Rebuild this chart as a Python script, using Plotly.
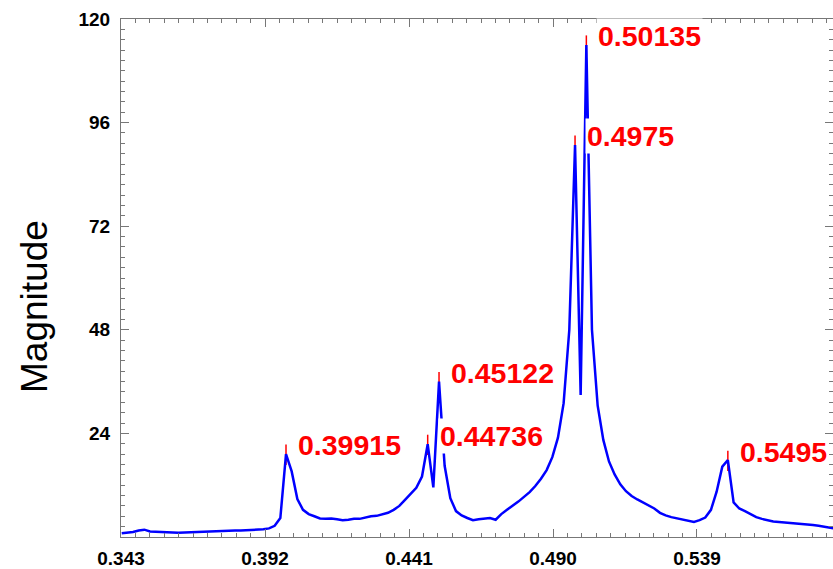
import plotly.graph_objects as go

# Frequency grid (x) and magnitude values (y)
freq = [0.34324, 0.34517, 0.34709, 0.34902, 0.35095, 0.35288, 0.35481, 0.35673,
        0.35866, 0.36059, 0.36252, 0.36445, 0.36637, 0.36830, 0.37023, 0.37216,
        0.37409, 0.37601, 0.37794, 0.37987, 0.38180, 0.38373, 0.38565, 0.38758,
        0.38951, 0.39144, 0.39337, 0.39529, 0.39722, 0.39915, 0.40108, 0.40301,
        0.40493, 0.40686, 0.40879, 0.41072, 0.41265, 0.41457, 0.41650, 0.41843,
        0.42036, 0.42229, 0.42421, 0.42614, 0.42807, 0.43000, 0.43193, 0.43385,
        0.43578, 0.43771, 0.43964, 0.44157, 0.44349, 0.44542, 0.44736, 0.44928,
        0.45122, 0.45313, 0.45506, 0.45699, 0.45892, 0.46085, 0.46277, 0.46470,
        0.46663, 0.46856, 0.47049, 0.47241, 0.47434, 0.47627, 0.47820, 0.48013,
        0.48205, 0.48398, 0.48591, 0.48784, 0.48977, 0.49169, 0.49362, 0.49555,
        0.49750, 0.49941, 0.50135, 0.50326, 0.50519, 0.50712, 0.50905, 0.51097,
        0.51290, 0.51483, 0.51676, 0.51869, 0.52061, 0.52254, 0.52447, 0.52640,
        0.52833, 0.53025, 0.53218, 0.53411, 0.53604, 0.53797, 0.53989, 0.54182,
        0.54375, 0.54568, 0.54761, 0.54950, 0.55146, 0.55339, 0.55532, 0.55725,
        0.55917, 0.56110, 0.56303, 0.56496, 0.56689, 0.56881, 0.57074, 0.57267,
        0.57460, 0.57653, 0.57845, 0.58038, 0.58231, 0.58424, 0.58617]

magnitude = [0.85, 0.95, 1.15, 1.5, 1.7, 1.3, 1.2, 1.15,
             1.1, 1.05, 1.0, 1.05, 1.2, 1.3, 1.35, 1.35,
             1.4, 1.4, 1.45, 1.45, 1.5, 1.5, 1.55, 1.6,
             1.7, 1.8, 2.0, 2.6, 4.4, 19.2, 15.2, 8.8,
             6.3, 5.3, 4.8, 4.3, 4.2, 4.3, 4.1, 3.9,
             4.0, 4.2, 4.2, 4.5, 4.8, 4.9, 5.3, 5.6,
             6.3, 7.2, 8.6, 10.0, 11.4, 14.0, 21.5, 11.5,
             36.0, 16.5, 9.0, 6.0, 5.0, 4.4, 3.9, 4.1,
             4.3, 4.4, 4.0, 5.3, 6.3, 7.2, 8.2, 9.3,
             10.4, 11.8, 13.5, 15.5, 18.5, 23.0, 31.0, 48.0,
             90.8, 32.9, 114.0, 48.0, 30.5, 22.5, 17.5, 14.5,
             12.2, 10.6, 9.5, 8.7, 8.0, 7.3, 6.6, 5.6,
             5.0, 4.6, 4.3, 4.1, 3.8, 3.5, 3.9, 4.5,
             6.3, 10.5, 16.3, 17.8, 8.0, 6.6, 6.0, 5.3,
             4.6, 4.2, 3.9, 3.6, 3.5, 3.4, 3.3, 3.1,
             3.0, 2.9, 2.8, 2.6, 2.4, 2.1, 1.9]

peak_freqs = [0.39915, 0.44736, 0.45122, 0.4975, 0.50135, 0.5495]
peak_vals = [19.2, 21.5, 36.0, 90.8, 114.0, 17.8]
peak_labels = ["0.39915", "0.44736", "0.45122", "0.4975", "0.50135", "0.5495"]

# tick layout: x majors 0.343, 0.392, 0.441, 0.490, 0.539 ; y majors 24..120
x_tick0, x_dtick, x_minor_dtick = 0.343, 0.049, 0.0049
y_tick0, y_dtick, y_minor_dtick = 0, 24, 2.4

AXIS_GRAY = "#777777"

fig = go.Figure()

# red peak markers (drawn beneath the blue curve)
sx, sy = [], []
for f, v in zip(peak_freqs, peak_vals):
    sx += [f, f, None]
    sy += [v - 2.5, v + 2.2, None]
fig.add_trace(go.Scatter(x=sx, y=sy, mode="lines",
                         line=dict(color="#ff0000", width=1.5),
                         hoverinfo="skip", showlegend=False))

fig.add_trace(go.Scatter(x=freq, y=magnitude, mode="lines",
                         line=dict(color="#0000ff", width=2.5),
                         showlegend=False))

for f, v, t in zip(peak_freqs, peak_vals, peak_labels):
    fig.add_annotation(x=f, y=v + 2.0, xref="x", yref="y", text="<b>" + t + "</b>",
                       showarrow=False, xanchor="left", yanchor="middle", xshift=10,
                       bgcolor="white", borderpad=1,
                       font=dict(family="Liberation Sans, Arial, sans-serif", size=28.5,
                                 color="#ff0000"))

fig.add_annotation(text="Magnitude", xref="paper", yref="paper", x=-0.1208, y=0.446,
                   xanchor="center", yanchor="middle", textangle=-90, showarrow=False,
                   font=dict(family="Liberation Sans, Arial, sans-serif", size=37,
                             color="black"))

fig.update_layout(
    width=833, height=569,
    margin=dict(l=121, r=0, t=19, b=32),
    paper_bgcolor="white", plot_bgcolor="white",
    font=dict(family="Liberation Sans, Arial, sans-serif", size=19, color="black"),
    xaxis=dict(range=[0.343, 0.58528], tickmode="linear", tick0=x_tick0, dtick=x_dtick,
               tickformat=".3f", tickprefix="<b>", ticksuffix="</b>",
               ticklabelstandoff=4,
               ticks="inside", ticklen=8, tickwidth=1, tickcolor=AXIS_GRAY,
               showline=True, linecolor=AXIS_GRAY, linewidth=1, mirror="ticks",
               showgrid=False, zeroline=False,
               minor=dict(ticks="inside", ticklen=4, tickwidth=1, tickcolor=AXIS_GRAY,
                          dtick=x_minor_dtick, showgrid=False)),
    yaxis=dict(range=[0, 120], tickmode="linear", tick0=y_tick0, dtick=y_dtick,
               tickprefix="<b>", ticksuffix="</b>", ticklabelstandoff=6,
               labelalias={"<b>0</b>": "", "0": ""},
               ticks="inside", ticklen=8, tickwidth=1, tickcolor=AXIS_GRAY,
               showline=True, linecolor=AXIS_GRAY, linewidth=1, mirror="ticks",
               showgrid=False, zeroline=False,
               minor=dict(ticks="inside", ticklen=4, tickwidth=1, tickcolor=AXIS_GRAY,
                          dtick=y_minor_dtick, showgrid=False)),
)

fig.write_html("out.html")
